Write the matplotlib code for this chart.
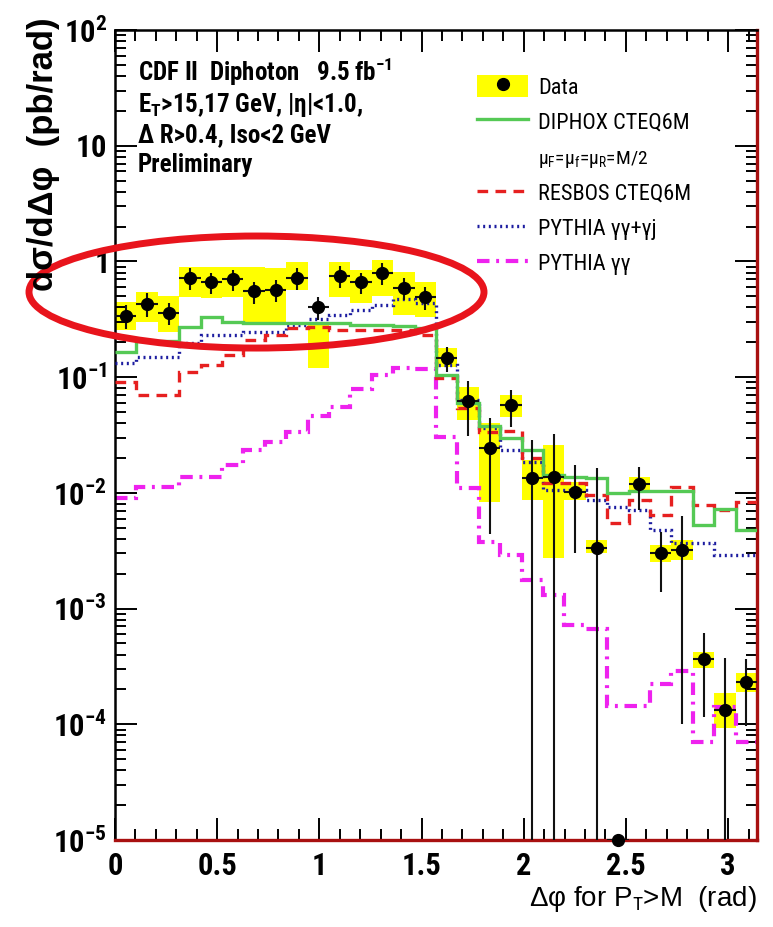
import numpy as np
import matplotlib
matplotlib.use('Agg')
import matplotlib.pyplot as plt
from matplotlib import font_manager
from matplotlib.patches import Ellipse, Patch
from matplotlib.lines import Line2D
from matplotlib.legend_handler import HandlerTuple
from matplotlib.ticker import FixedLocator, LogLocator, MultipleLocator, NullFormatter

# Prefer a narrow Helvetica-like face for horizontal text, else Liberation Sans
names = {f.name for f in font_manager.fontManager.ttflist}
FONT = 'Liberation Sans'
for cand in ('Liberation Sans Narrow', 'Arial Narrow', 'Nimbus Sans Narrow', 'Roboto Condensed'):
    if cand in names:
        FONT = cand
        break
NARROW = FONT != 'Liberation Sans'
plt.rcParams['font.family'] = [FONT, 'DejaVu Sans']
plt.rcParams['mathtext.fontset'] = 'custom'
plt.rcParams['mathtext.rm'] = FONT
plt.rcParams['mathtext.it'] = FONT + ':italic'
plt.rcParams['mathtext.bf'] = FONT + ':bold'

# font sizes (pt): tick labels, info block, legend, legend sub-line
if NARROW:
    FS_TICK, FS_INFO, FS_LEG, FS_SUB = 22, 18, 16, 14
else:
    FS_TICK, FS_INFO, FS_LEG, FS_SUB = 19.5, 15.5, 15, 13

# ── Binning: 30 bins in Δφ over [0, π] ──────────────────────────────────────
edges = np.linspace(0.0, np.pi, 31)
centers = 0.5 * (edges[:-1] + edges[1:])
binw = edges[1] - edges[0]

# ── Measured cross section (pb/rad) ─────────────────────────────────────────
data_val = [0.34, 0.43, 0.36, 0.72, 0.66, 0.70, 0.55, 0.57, 0.72, 0.40,
            0.75, 0.66, 0.79, 0.59, 0.49, 0.146, 0.062, 0.0244, 0.057, 0.0134,
            0.0137, 0.0102, 0.00333, 1.0e-5, 0.0119, 0.0030, 0.0032, 0.000366,
            0.000133, 0.000232]
stat_err = [0.08, 0.10, 0.08, 0.15, 0.14, 0.15, 0.12, 0.12, 0.15, 0.09,
            0.16, 0.14, 0.17, 0.13, 0.11, 0.035, 0.031, 0.020, 0.020, 0.015,
            0.0185, 0.0072, 0.013, 0.0, 0.0048, 0.0016, 0.0031, 0.00025,
            0.00024, 0.000136]
sys_lo = [0.255, 0.299, 0.245, 0.492, 0.483, 0.492, 0.294, 0.294, 0.566, 0.120,
          0.49, 0.437, 0.50, 0.344, 0.331, 0.122, 0.0426, 0.0083, 0.0452, 0.0087,
          0.00273, 0.0087, 0.00302, np.nan, 0.0106, 0.00252, 0.00262, 0.000306,
          0.0000927, 0.000190]
sys_hi = [0.446, 0.544, 0.502, 0.895, 0.895, 0.895, 0.895, 0.877, 0.99, 0.282,
          0.99, 0.843, 1.03, 0.81, 0.664, 0.179, 0.082, 0.0401, 0.070, 0.0192,
          0.0259, 0.0124, 0.0039, np.nan, 0.0137, 0.00354, 0.0039, 0.000421,
          0.000186, 0.000277]

# ── Theory predictions ──────────────────────────────────────────────────────
diphox = [0.165, 0.205, 0.205, 0.271, 0.331, 0.299, 0.294, 0.294, 0.294, 0.294,
          0.294, 0.282, 0.282, 0.275, 0.265, 0.104, 0.0595, 0.0378, 0.0298, 0.0233,
          0.0142, 0.0137, 0.0134, 0.0100, 0.0104, 0.0104, 0.0104, 0.00527,
          0.00724, 0.00478]
resbos = [0.0908, 0.070, 0.070, 0.111, 0.127, 0.155, 0.209, 0.231, 0.266, 0.271,
          0.256, 0.256, 0.256, 0.256, 0.232, 0.098, 0.054, 0.0335, 0.0345, 0.020,
          0.0122, 0.0122, 0.0096, 0.0055, 0.0087, 0.0064, 0.0112, 0.00785,
          0.0071, 0.0083]
pythia_gj = [0.132, 0.149, 0.149, 0.197, 0.231, 0.231, 0.245, 0.245, 0.282, 0.316,
             0.344, 0.38, 0.42, 0.47, 0.44, 0.127, 0.063, 0.0366, 0.0233, 0.0185,
             0.0106, 0.0106, 0.0087, 0.0075, 0.0071, 0.00478, 0.00368, 0.00368,
             0.0029, 0.0029]
pythia_gg = [0.0090, 0.0112, 0.0112, 0.0137, 0.0137, 0.0174, 0.0233, 0.0275,
             0.0335, 0.0461, 0.0552, 0.0789, 0.104, 0.12, 0.118, 0.0304, 0.011,
             0.00376, 0.0029, 0.00176, 0.00131, 0.00072, 0.000665, 0.000144,
             0.000144, 0.000223, 0.000288, 0.0000702, 0.000140, 0.0000702]

xticks = [0, 0.5, 1, 1.5, 2, 2.5, 3]
xtick_labels = ['0', '0.5', '1', '1.5', '2', '2.5', '3']
yticks = [1e-5, 1e-4, 1e-3, 1e-2, 1e-1, 1, 10, 100]
ytick_labels = [r'$\mathbf{10^{-5}}$', r'$\mathbf{10^{-4}}$', r'$\mathbf{10^{-3}}$',
                r'$\mathbf{10^{-2}}$', r'$\mathbf{10^{-1}}$', r'$\mathbf{1}$',
                r'$\mathbf{10}$', r'$\mathbf{10^{2}}$']

YELLOW = '#ffff00'
GREEN = '#55c955'
RED = '#e62020'
BLUE = '#1c1ca0'
MAGENTA = '#ee22ee'
FRAME_RED = '#a81010'
LS_RED = (0, (3.2, 2.2))
LS_BLUE = (0, (0.6, 1.1))
LS_MAG = (0, (3.0, 1.6, 0.7, 1.6))

fig = plt.figure(figsize=(7.73, 9.27), dpi=100)
ax = fig.add_axes([115 / 773, 1 - 840 / 927, 642 / 773, 810 / 927])
ax.set_yscale('log')
ax.set_xlim(0, np.pi)
ax.set_ylim(1e-5, 1e2)

# systematic bands
lo = np.array(sys_lo)
hi = np.array(sys_hi)
ok = ~np.isnan(lo)
ax.bar(centers[ok], hi[ok] - lo[ok], bottom=lo[ok], width=binw,
       color=YELLOW, linewidth=0, zorder=1)

# predictions as step histograms
ax.stairs(pythia_gg, edges, baseline=None, color=MAGENTA, lw=3.0, linestyle=LS_MAG, zorder=2)
ax.stairs(pythia_gj, edges, baseline=None, color=BLUE, lw=2.4, linestyle=LS_BLUE, zorder=3)
ax.stairs(resbos, edges, baseline=None, color=RED, lw=2.4, linestyle=LS_RED, zorder=3)
ax.stairs(diphox, edges, baseline=None, color=GREEN, lw=2.4, zorder=3)

# data with statistical errors
ax.errorbar(centers, data_val, xerr=binw / 2, yerr=stat_err, fmt='none',
            ecolor='#111111', elinewidth=1.5, capsize=0, zorder=4)
ax.plot(centers, data_val, 'o', color='black', ms=8.5, clip_on=False, zorder=5)

# axes styling
ax.xaxis.set_major_locator(FixedLocator(xticks))
ax.set_xticklabels(xtick_labels, fontsize=FS_TICK, fontweight='bold')
ax.xaxis.set_minor_locator(MultipleLocator(0.1))
ax.yaxis.set_major_locator(FixedLocator(yticks))
ax.set_yticklabels(ytick_labels, fontsize=FS_TICK)
ax.yaxis.set_minor_locator(LogLocator(base=10, subs=np.arange(2, 10)))
ax.yaxis.set_minor_formatter(NullFormatter())
ax.tick_params(which='both', direction='in', top=True, right=True, width=1.4)
ax.tick_params(which='major', length=16)
ax.tick_params(which='minor', length=8)
ax.tick_params(axis='x', pad=8)
ax.tick_params(axis='y', pad=6)
for side in ('left', 'top'):
    ax.spines[side].set_linewidth(1.8)
for side in ('right', 'bottom'):
    ax.spines[side].set_color(FRAME_RED)
    ax.spines[side].set_linewidth(2.4)

# titles and labels
fig.text(44 / 773, 1 - 17 / 927, 'dσ/dΔφ  (pb/rad)', rotation=90,
         ha='center', va='top', fontsize=25, fontweight='bold',
         family='Liberation Sans')
fig.text(757 / 773, 1 - 884 / 927, r'Δφ for P$_{\mathrm{T}}$>M  (rad)',
         ha='right', va='top', fontsize=20, family='Liberation Sans')

info = [r'CDF II  Diphoton   9.5 fb$^{\mathbf{-1}}$',
        r'E$_{\mathbf{T}}$>15,17 GeV, |η|<1.0,',
        'Δ R>0.4, Iso<2 GeV',
        'Preliminary']
for line, ybase in zip(info, [81, 112, 142, 172]):
    fig.text(138 / 773, 1 - ybase / 927, line, ha='left', va='baseline',
             fontsize=FS_INFO, fontweight='bold')

# legend
h_data = (Patch(facecolor=YELLOW, edgecolor='none'),
          Line2D([], [], color='black', marker='o', ms=8.5, ls='none'))
handles = [h_data,
           Line2D([], [], color=GREEN, lw=2.4),
           Line2D([], [], color='none'),
           Line2D([], [], color=RED, lw=2.4, linestyle=LS_RED),
           Line2D([], [], color=BLUE, lw=2.4, linestyle=LS_BLUE),
           Line2D([], [], color=MAGENTA, lw=3.0, linestyle=LS_MAG)]
labels = ['Data', 'DIPHOX CTEQ6M',
          r'μ$_{\mathrm{F}}$=μ$_{\mathrm{f}}$=μ$_{\mathrm{R}}$=M/2',
          'RESBOS CTEQ6M', 'PYTHIA γγ+γj', 'PYTHIA γγ']
leg = ax.legend(handles, labels, handler_map={tuple: HandlerTuple(ndivide=1)},
                loc='upper left', bbox_to_anchor=((477 - 115) / 642, (840 - 75) / 810),
                frameon=False, fontsize=FS_LEG, handlelength=2.3, handleheight=1.15,
                handletextpad=0.45, labelspacing=0.52, borderpad=0, borderaxespad=0)
leg.get_texts()[2].set_fontsize(FS_SUB)

# highlight ring around the low-Δφ plateau
ring = Ellipse((0.2204, 0.6765), 0.7087, 0.1383, transform=ax.transAxes,
               fill=False, edgecolor='#e8141c', lw=5, clip_on=False, zorder=10)
ax.add_patch(ring)

fig.savefig('out.png', dpi=100, facecolor='white')
